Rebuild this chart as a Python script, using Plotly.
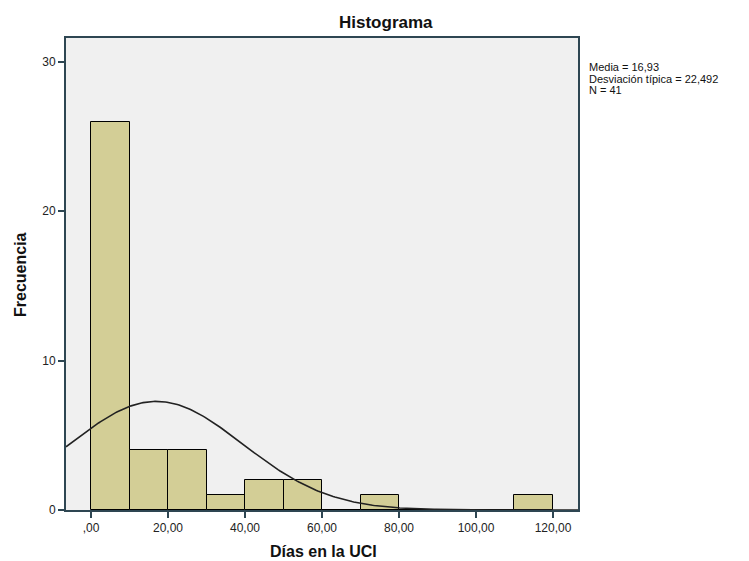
import numpy as np
import plotly.graph_objects as go

# Data
bin_starts = [0, 10, 20, 30, 40, 50, 60, 70, 80, 90, 100, 110]
counts = [26, 4, 4, 1, 2, 2, 0, 1, 0, 0, 0, 1]
bin_width = 10
media = 16.93
desv = 22.492
n_total = 41
x_ticks = [0, 20, 40, 60, 80, 100, 120]
x_tick_labels = [",00", "20,00", "40,00", "60,00", "80,00", "100,00", "120,00"]
y_ticks = [0, 10, 20, 30]

W, H = 749, 561
L, R, T, B = 66, 171, 38, 51
x_range = [-6.5, 126.5]
y_range = [0, 31.6]

centers = [s + bin_width / 2 for s in bin_starts]

# Fitted normal curve from the stated mean / sd (scaled to counts)
xc = np.linspace(x_range[0], x_range[1], 300)
yc = n_total * bin_width / (desv * np.sqrt(2 * np.pi)) * np.exp(-0.5 * ((xc - media) / desv) ** 2)

fig = go.Figure()
fig.add_trace(go.Bar(
    x=centers, y=counts, width=bin_width,
    marker=dict(color="#d3ce96", line=dict(color="#000000", width=1)),
    hoverinfo="skip",
))
fig.add_trace(go.Scatter(
    x=xc, y=yc, mode="lines",
    line=dict(color="#222222", width=1.6),
    hoverinfo="skip",
))

pw, ph = W - L - R, H - T - B

def px_x(x):
    return (x - L) / pw

def px_y(y):
    return (H - B - y) / ph

stats_lines = [
    f"Media = {media:.2f}".replace(".", ","),
    f"Desviación típica = {desv:.3f}".replace(".", ","),
    f"N = {n_total}",
]
stats_ann = [
    dict(text=t, xref="paper", yref="paper",
         x=px_x(587), y=px_y(67 + 11.5 * i),
         xanchor="left", yanchor="middle", align="left", showarrow=False,
         font=dict(size=11, color="#111111"))
    for i, t in enumerate(stats_lines)
]

axis_color = "#2e4652"
fig.update_layout(
    width=W, height=H,
    margin=dict(l=L, r=R, t=T, b=B),
    paper_bgcolor="white",
    plot_bgcolor="#f0f0f0",
    showlegend=False,
    bargap=0,
    font=dict(family="Liberation Sans, Arial", size=12, color="#222222"),
    xaxis=dict(
        range=x_range, tickvals=x_ticks, ticktext=x_tick_labels,
        ticks="outside", ticklen=6, tickcolor=axis_color, tickwidth=1.5,
        showgrid=False, zeroline=False,
        showline=True, linecolor=axis_color, linewidth=2, mirror=True,
        tickfont=dict(size=12),
    ),
    yaxis=dict(
        range=y_range, tickvals=y_ticks,
        ticks="outside", ticklen=6, tickcolor=axis_color, tickwidth=1.5,
        showgrid=False, zeroline=False,
        showline=True, linecolor=axis_color, linewidth=2, mirror=True,
        tickfont=dict(size=12),
    ),
    annotations=[
        dict(text="<b>Histograma</b>", xref="paper", yref="paper",
             x=px_x(386), y=px_y(22),
             xanchor="center", yanchor="middle", showarrow=False,
             font=dict(size=17, color="#111111")),
        dict(text="<b>Días en la UCI</b>", xref="paper", yref="paper",
             x=px_x(323), y=px_y(551),
             xanchor="center", yanchor="middle", showarrow=False,
             font=dict(size=16, color="#111111")),
        dict(text="<b>Frecuencia</b>", xref="paper", yref="paper",
             x=px_x(20), y=px_y(275),
             xanchor="center", yanchor="middle", textangle=-90, showarrow=False,
             font=dict(size=16, color="#111111")),
    ] + stats_ann,
)
fig.write_html("out.html")
